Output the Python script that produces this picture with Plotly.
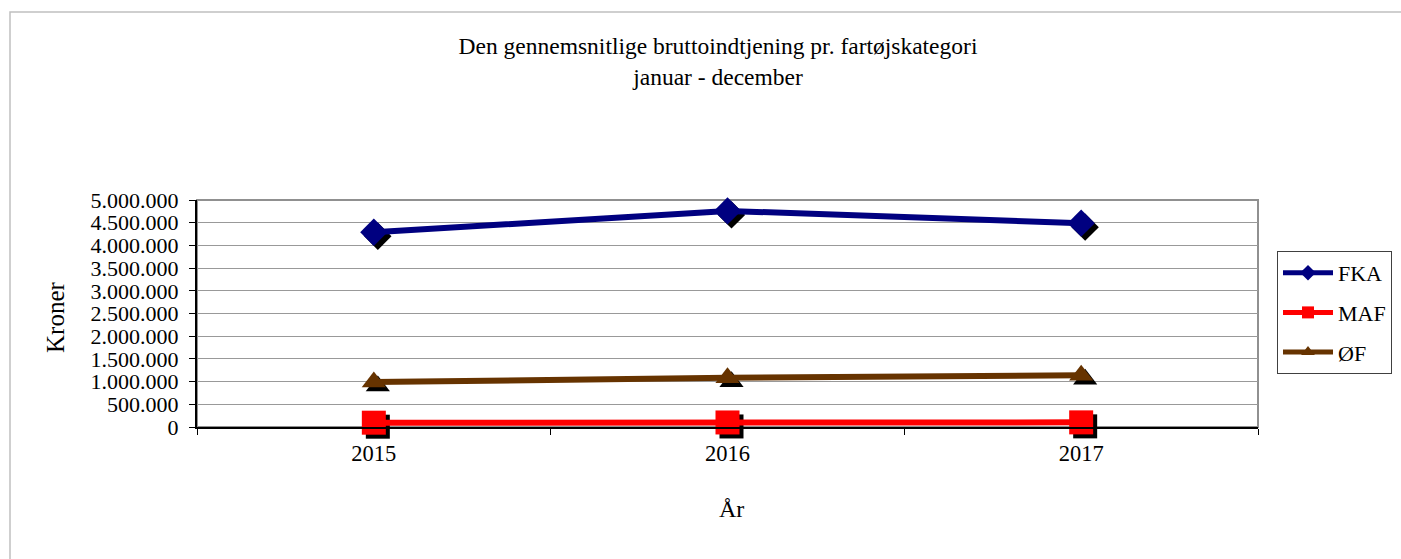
import plotly.graph_objects as go

years = ["2015", "2016", "2017"]
fka = [4290000, 4760000, 4490000]
maf = [95000, 100000, 102000]
oef = [990000, 1085000, 1140000]

series = [
    ("FKA", fka, "#000080", "diamond", 21),
    ("MAF", maf, "#FF0000", "square", 24),
    ("ØF", oef, "#663300", "triangle-up", 21),
]

W, H = 1401, 559
ML, MR, MT, MB = 197, 143, 200, 132
PW = W - ML - MR
PH = H - MT - MB
YMAX = 5000000
XR = [-0.5, 2.5]
SHX, SHY = 4, 4
dx = SHX * (XR[1] - XR[0]) / PW
dy = SHY * YMAX / PH

FONT = "Liberation Serif, Times New Roman, serif"

fig = go.Figure()

# invisible carrier so the base axes (grid, ticks) are drawn
fig.add_trace(go.Scatter(x=years, y=fka, mode="lines", line=dict(width=0), opacity=0,
                         showlegend=False, hoverinfo="skip"))

# shadows (on axes shifted by a few pixels)
for name, vals, col, sym, sz in series:
    fig.add_trace(go.Scatter(
        x=years, y=vals, mode="markers", xaxis="x2", yaxis="y2",
        marker=dict(symbol=sym, size=sz, color="black", line=dict(width=0)),
        showlegend=False, hoverinfo="skip", cliponaxis=False))

for i, (name, vals, col, sym, sz) in enumerate(series):
    fig.add_trace(go.Scatter(
        x=years, y=vals, mode="lines+markers", name=name, xaxis="x3", yaxis="y3",
        line=dict(color=col, width=6),
        marker=dict(symbol=sym, size=sz, color=col, line=dict(width=0)),
        legendgroup=name, cliponaxis=False))

fig.update_layout(
    width=W, height=H,
    margin=dict(l=ML, r=MR, t=MT, b=MB, autoexpand=False),
    paper_bgcolor="white", plot_bgcolor="white",
    separators=",.",
    font=dict(family=FONT, size=22, color="black"),
    title=dict(text="Den gennemsnitlige bruttoindtjening pr. fartøjskategori<br>januar - december",
               x=718 / W, xref="container", xanchor="center",
               y=1 - 54 / H, yref="container", yanchor="middle",
               font=dict(family=FONT, size=23.5, color="black")),
    xaxis=dict(type="category", range=XR, showgrid=False, showline=True, linecolor="black",
               linewidth=2, ticks="outside", tickson="boundaries", ticklen=6, tickcolor="black",
               tickfont=dict(size=22.5), ticklabelstandoff=5, zeroline=False),
    yaxis=dict(range=[0, YMAX], dtick=500000, tickformat=",d", showgrid=True,
               gridcolor="#999999", gridwidth=1, showline=True, linecolor="black", linewidth=2,
               ticks="outside", ticklen=6, tickcolor="black", tickfont=dict(size=22),
               ticklabelstandoff=6, zeroline=False),
    xaxis2=dict(type="category", overlaying="x", range=[XR[0] - dx, XR[1] - dx], visible=False),
    yaxis2=dict(overlaying="y", range=[dy, YMAX + dy], visible=False),
    xaxis3=dict(type="category", overlaying="x", range=XR, visible=False),
    yaxis3=dict(overlaying="y", range=[0, YMAX], visible=False),
    legend=dict(x=(1277 - ML) / PW, y=(MT + PH - 251) / PH, xanchor="left", yanchor="top",
                bordercolor="#404040", borderwidth=1, bgcolor="white",
                font=dict(family=FONT, size=22), tracegroupgap=8,
                itemwidth=50, itemsizing="constant",
                entrywidth=72, entrywidthmode="pixels"),
    showlegend=True,
    shapes=[
        dict(type="rect", xref="paper", yref="paper", x0=0, x1=1, y0=0, y1=1,
             line=dict(color="#909090", width=2), layer="below"),
        dict(type="rect", xref="paper", yref="paper",
             x0=(10 - ML) / PW, x1=1.3, y0=-0.8, y1=(MT + PH - 12) / PH,
             line=dict(color="#C0C0C0", width=1.5), layer="below"),
    ],
    annotations=[
        dict(text="Kroner", textangle=-90, xref="paper", yref="paper",
             x=(55 - ML) / PW, y=(MT + PH - 318) / PH, showarrow=False,
             xanchor="center", yanchor="middle", font=dict(family=FONT, size=25)),
        dict(text="År", xref="paper", yref="paper",
             x=(731 - ML) / PW, y=(MT + PH - 509) / PH, showarrow=False,
             xanchor="center", yanchor="middle", font=dict(family=FONT, size=24)),
    ],
)

fig.write_html("out.html", config={"displayModeBar": False},
               post_script="document.body.style.margin='0px';")
